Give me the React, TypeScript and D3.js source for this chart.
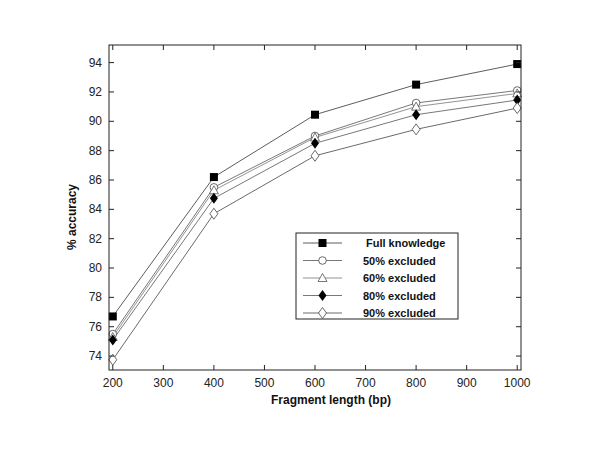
import React from "react";
import * as d3 from "d3";

const xValues = [200, 400, 600, 800, 1000];
const fullKnowledge = [76.7, 86.2, 90.45, 92.5, 93.9];
const excluded50 = [75.5, 85.5, 89.0, 91.25, 92.1];
const excluded60 = [75.3, 85.3, 88.9, 91.0, 91.9];
const excluded80 = [75.1, 84.75, 88.5, 90.45, 91.45];
const excluded90 = [73.75, 83.7, 87.65, 89.45, 90.9];
const seriesNames = ["Full knowledge", "50% excluded", "60% excluded", "80% excluded", "90% excluded"];
const xTicks = [200, 300, 400, 500, 600, 700, 800, 900, 1000];
const yTicks = [74, 76, 78, 80, 82, 84, 86, 88, 90, 92, 94];

type Marker = "square" | "circle" | "triangle" | "diamondFilled" | "diamondOpen";
const seriesList: { name: string; values: number[]; marker: Marker; line: string }[] = [
  { name: seriesNames[0], values: fullKnowledge, marker: "square", line: "#333" },
  { name: seriesNames[1], values: excluded50, marker: "circle", line: "#555" },
  { name: seriesNames[2], values: excluded60, marker: "triangle", line: "#777" },
  { name: seriesNames[3], values: excluded80, marker: "diamondFilled", line: "#555" },
  { name: seriesNames[4], values: excluded90, marker: "diamondOpen", line: "#444" },
];

const W = 600, H = 450;
const left = 109, right = 521, top = 45, bottom = 370;
const x = d3.scaleLinear().domain([192.5, 1007.5]).range([left, right]);
const y = d3.scaleLinear().domain([73.05, 95.2]).range([bottom, top]);

function MarkerShape({ type, cx, cy }: { type: Marker; cx: number; cy: number }) {
  const s = 4;
  switch (type) {
    case "square":
      return <rect x={cx - s} y={cy - s} width={2 * s} height={2 * s} fill="#000" />;
    case "circle":
      return <circle cx={cx} cy={cy} r={3.8} fill="#fff" stroke="#444" strokeWidth={0.8} />;
    case "triangle":
      return (
        <path d={`M${cx},${cy - 4.5}L${cx + 4.5},${cy + 3.5}L${cx - 4.5},${cy + 3.5}Z`} fill="#fff" stroke="#555" strokeWidth={0.8} />
      );
    case "diamondFilled":
      return <path d={`M${cx},${cy - 5.5}L${cx + 4},${cy}L${cx},${cy + 5.5}L${cx - 4},${cy}Z`} fill="#000" />;
    case "diamondOpen":
      return (
        <path d={`M${cx},${cy - 5.5}L${cx + 4},${cy}L${cx},${cy + 5.5}L${cx - 4},${cy}Z`} fill="#fff" stroke="#444" strokeWidth={0.8} />
      );
  }
}

export default function App() {
  const line = d3
    .line<number>()
    .x((_, i) => x(xValues[i]))
    .y((d) => y(d));
  const font = "'Liberation Sans', Arial, sans-serif";
  const tickLen = 5;
  const legendX = 296, legendY = 233, legendW = 162, legendH = 86;
  const rowYs = [243, 260.5, 278, 295.5, 313];
  return (
    <svg width={W} height={H} style={{ position: "absolute", left: 0, top: 0, background: "#fff" }} fontFamily={font}>
      <rect width={W} height={H} fill="#fff" />
      {/* series */}
      {seriesList.map((s) => (
        <g key={s.name}>
          <path d={line(s.values) || ""} fill="none" stroke={s.line} strokeWidth={0.8} />
        </g>
      ))}
      {seriesList.map((s) => (
        <g key={s.name + "m"}>
          {s.values.map((v, i) => (
            <MarkerShape key={i} type={s.marker} cx={x(xValues[i])} cy={y(v)} />
          ))}
        </g>
      ))}
      {/* axes box */}
      <rect x={left} y={top} width={right - left} height={bottom - top} fill="none" stroke="#222" strokeWidth={1} />
      {xTicks.map((t) => (
        <g key={"x" + t}>
          <line x1={x(t)} x2={x(t)} y1={bottom} y2={bottom - tickLen} stroke="#222" />
          <line x1={x(t)} x2={x(t)} y1={top} y2={top + tickLen} stroke="#222" />
          <text x={x(t)} y={bottom + 17} fontSize={12} textAnchor="middle" fill="#222">
            {t}
          </text>
        </g>
      ))}
      {yTicks.map((t) => (
        <g key={"y" + t}>
          <line x1={left} x2={left + tickLen} y1={y(t)} y2={y(t)} stroke="#222" />
          <line x1={right} x2={right - tickLen} y1={y(t)} y2={y(t)} stroke="#222" />
          <text x={left - 7} y={y(t) + 4} fontSize={12} textAnchor="end" fill="#222">
            {t}
          </text>
        </g>
      ))}
      <text x={331} y={404} fontSize={12} fontWeight="bold" textAnchor="middle" fill="#111">
        Fragment length (bp)
      </text>
      <text
        x={0}
        y={0}
        transform={`translate(76,217) rotate(-90)`}
        fontSize={12}
        fontWeight="bold"
        textAnchor="middle"
        fill="#111"
      >
        % accuracy
      </text>
      {/* legend */}
      <rect x={legendX} y={legendY} width={legendW} height={legendH} fill="#fff" stroke="#222" strokeWidth={1} />
      {seriesList.map((s, i) => (
        <g key={"l" + s.name}>
          <line x1={303} x2={342} y1={rowYs[i]} y2={rowYs[i]} stroke={s.line} strokeWidth={0.8} />
          <MarkerShape type={s.marker} cx={322.5} cy={rowYs[i]} />
          <text x={i === 0 ? 366 : 363} y={rowYs[i] + 4} fontSize={11} fontWeight="bold" fill="#111">
            {s.name}
          </text>
        </g>
      ))}
    </svg>
  );
}
